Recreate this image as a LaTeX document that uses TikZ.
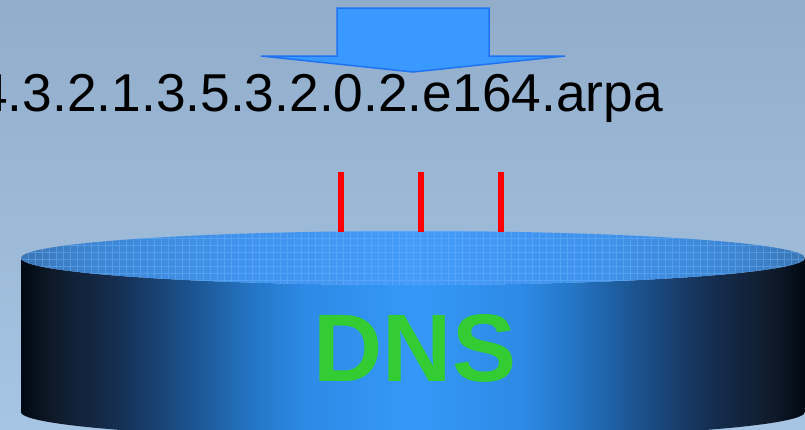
\documentclass[tikz,border=0pt]{standalone}
\usepackage{fontspec}
\setmainfont{Liberation Sans}
\usetikzlibrary{calc}

\definecolor{bgtop}{HTML}{91ADCA}
\definecolor{bgbot}{HTML}{A6C4E4}
\definecolor{arrowfill}{HTML}{3A99FF}
\definecolor{arrowline}{HTML}{1F72F2}
\definecolor{dnsgreen}{HTML}{33CC33}
\definecolor{gridlight}{HTML}{6DB6FF}

% dark-edged, bright-centred side of the drum
\pgfdeclarehorizontalshading{drumside}{100bp}{%
  color(0bp)=(rgb,255:red,0;green,9;blue,18);
  color(25bp)=(rgb,255:red,0;green,9;blue,18);
  color(27bp)=(rgb,255:red,15;green,26;blue,42);
  color(31bp)=(rgb,255:red,21;green,46;blue,80);
  color(36bp)=(rgb,255:red,28;green,85;blue,146);
  color(40bp)=(rgb,255:red,37;green,119;blue,200);
  color(43bp)=(rgb,255:red,45;green,138;blue,229);
  color(50bp)=(rgb,255:red,53;green,152;blue,248);
  color(57bp)=(rgb,255:red,45;green,138;blue,229);
  color(60bp)=(rgb,255:red,37;green,119;blue,200);
  color(64bp)=(rgb,255:red,28;green,85;blue,146);
  color(69bp)=(rgb,255:red,21;green,46;blue,80);
  color(73bp)=(rgb,255:red,15;green,26;blue,42);
  color(75bp)=(rgb,255:red,0;green,9;blue,18);
  color(100bp)=(rgb,255:red,0;green,9;blue,18)}

% lid of the drum
\pgfdeclarehorizontalshading{drumlid}{100bp}{%
  color(0bp)=(rgb,255:red,60;green,118;blue,180);
  color(25bp)=(rgb,255:red,60;green,118;blue,180);
  color(30bp)=(rgb,255:red,62;green,134;blue,212);
  color(38bp)=(rgb,255:red,64;green,146;blue,235);
  color(50bp)=(rgb,255:red,68;green,155;blue,250);
  color(62bp)=(rgb,255:red,64;green,146;blue,235);
  color(70bp)=(rgb,255:red,62;green,134;blue,212);
  color(75bp)=(rgb,255:red,60;green,118;blue,180);
  color(100bp)=(rgb,255:red,60;green,118;blue,180)}

\tikzset{
  label text/.style={font=\fontsize{53.3}{62}\selectfont, text=black, inner sep=0pt},
  dns text/.style={font=\fontsize{96}{110}\selectfont\bfseries, text=dnsgreen, inner sep=0pt},
  probe/.style={draw=red, line width=5.5pt},
  bigarrow/.style={fill=arrowfill, draw=arrowline, line width=1.5pt, line join=miter},
}

\begin{document}
\begin{tikzpicture}[x=1pt, y=-1pt]
  % canvas
  \useasboundingbox (0,0) rectangle (805,429);
  \shade[top color=bgtop, bottom color=bgbot] (0,0) rectangle (805,429);

  \begin{scope}
    \clip (0,0) rectangle (805,429);

    % side of the drum (y grows downwards here, so the radii carry the sign)
    \shade[shading=drumside]
      (21,258) -- (21,412) arc[start angle=180, end angle=360, x radius=392, y radius=-27]
      -- (805,258) arc[start angle=0, end angle=180, x radius=392, y radius=27] -- cycle;

    % lid with a fine lattice texture
    \shade[shading=drumlid] (413,258) ellipse[x radius=392, y radius=27];
    \begin{scope}
      \clip (413,258) ellipse[x radius=392, y radius=27];
      \draw[gridlight, opacity=0.45, line width=0.8pt, step=7pt] (0,225) grid (810,290);
    \end{scope}

    % query name
    \node[label text, anchor=base east] (qname) at (663,111) {4.3.2.1.3.5.3.2.0.2.e164.arpa};

    % label on the drum
    \node[dns text, anchor=base] (dns) at (415,381) {DNS};
  \end{scope}

  % incoming query arrow
  \draw[bigarrow] (337,8) -- (489,8) -- (489,56) -- (565,56) -- (413,72)
    -- (261,56) -- (337,56) -- cycle;

  % probes into the lid
  \coordinate (p1top) at (341,172); \coordinate (p1bot) at (341,232);
  \coordinate (p2top) at (421,172); \coordinate (p2bot) at (421,232);
  \coordinate (p3top) at (501,172); \coordinate (p3bot) at (501,232);
  \draw[probe] (p1top) -- (p1bot);
  \draw[probe] (p2top) -- (p2bot);
  \draw[probe] (p3top) -- (p3bot);
\end{tikzpicture}
\end{document}
